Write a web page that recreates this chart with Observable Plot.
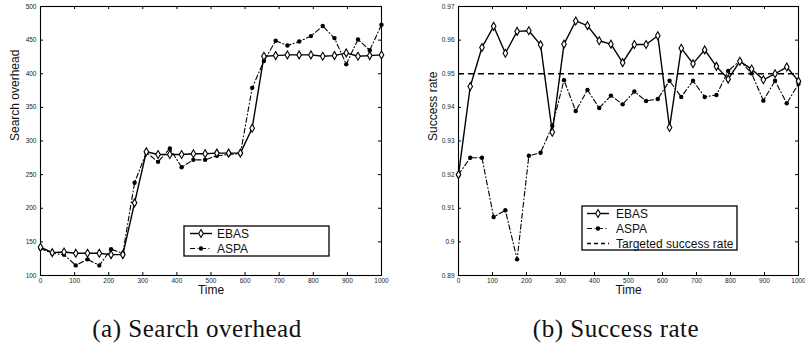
<!DOCTYPE html>
<html>
<head>
<meta charset="utf-8">
<script src="https://cdn.jsdelivr.net/npm/d3@7"></script>
<script src="https://cdn.jsdelivr.net/npm/@observablehq/plot@0.6"></script>
<style>
  body { margin: 0; background: #fff; }
  #wrap { position: relative; width: 805px; height: 347px; overflow: hidden; background: #fff;
          font-family: "Liberation Sans", Arial, sans-serif; }
  .panel { position: absolute; top: 0; }
  .legend { position: absolute; }
  #captions { position: absolute; left: 0; top: 0; }
</style>
</head>
<body>
<div id="wrap">
  <div class="panel" id="panelA" style="left:0;width:400px;"></div>
  <div class="panel" id="panelB" style="left:400px;width:405px;"></div>
  <div class="legend" id="legendA" style="left:183px;top:225px;"></div>
  <div class="legend" id="legendB" style="left:581px;top:205px;"></div>
  <svg id="captions" width="805" height="347"></svg>
</div>
<script>
// ---- data ----
const time = [0, 34.5, 69, 103.4, 137.9, 172.4, 206.9, 241.4, 275.9, 310.3, 344.8, 379.3, 413.8, 448.3, 482.8,
              517.2, 551.7, 586.2, 620.7, 655.2, 689.7, 724.1, 758.6, 793.1, 827.6, 862.1, 896.6, 931, 965.5, 1000];

const overheadEBAS = [142, 134, 135, 133, 133, 133, 131, 131, 208, 284, 280, 280, 280, 281, 281,
                      282, 282, 282, 319, 426, 427, 428, 428, 428, 426, 427, 431, 426, 427, 428];
const overheadASPA = [140, 133, 131, 115, 124, 115, 139, 133, 238, 283, 269, 289, 261, 272, 272,
                      278, 280, 281, 379, 419, 449, 442, 448, 456, 471, 453, 414, 451, 435, 473];

const successEBAS = [0.920, 0.9462, 0.9578, 0.9641, 0.9561, 0.9626, 0.9628, 0.9586, 0.9326, 0.9588,
                     0.9657, 0.9643, 0.9598, 0.9588, 0.9533, 0.9587, 0.9587, 0.9613, 0.934, 0.9576,
                     0.953, 0.9571, 0.9522, 0.9484, 0.9537, 0.9514, 0.9482, 0.950, 0.952, 0.9478];
const successASPA = [0.920, 0.925, 0.925, 0.9074, 0.9094, 0.8948, 0.9256, 0.9265, 0.9345, 0.9481,
                     0.9389, 0.9452, 0.9398, 0.9435, 0.9409, 0.9447, 0.9419, 0.9425, 0.9479, 0.9431,
                     0.9479, 0.9431, 0.9437, 0.9508, 0.9539, 0.9501, 0.942, 0.9479, 0.9412, 0.947];
const targetRate = 0.95;

const xTicks = [0, 100, 200, 300, 400, 500, 600, 700, 800, 900, 1000];
const yTicksA = [100, 150, 200, 250, 300, 350, 400, 450, 500];
const yTicksB = [0.89, 0.9, 0.91, 0.92, 0.93, 0.94, 0.95, 0.96, 0.97];

const seriesNames = ["EBAS", "ASPA", "Targeted success rate"];
const xLabel = "Time";
const yLabelA = "Search overhead";
const yLabelB = "Success rate";
const captionA = "(a) Search overhead";
const captionB = "(b) Success rate";

// ---- styles ----
const DASHDOT = "5,2.5,1,2.5";
const DASHED = "6,4";

function rows(a, b) { return time.map((t, i) => ({t, ebas: a[i], aspa: b[i]})); }

function panel({width, marginLeft, marginRight, yDomain, yTicks, yLabel, ebas, aspa, target}) {
  const data = rows(ebas, aspa);
  const [x0, x1] = [xTicks[0], xTicks[xTicks.length - 1]];
  const [y0, y1] = yDomain;
  const marks = [
    Plot.frame({stroke: "black", strokeWidth: 1.1}),
    // inward ticks on all four sides
    Plot.ruleX(xTicks, {x: d => d, y1: y0, y2: y0, insetBottom: 3, stroke: "black"}),
    Plot.ruleX(xTicks, {x: d => d, y1: y1, y2: y1, insetTop: 3, stroke: "black"}),
    Plot.ruleY(yTicks, {y: d => d, x1: x0, x2: x0, insetLeft: 3, stroke: "black"}),
    Plot.ruleY(yTicks, {y: d => d, x1: x1, x2: x1, insetRight: 3, stroke: "black"})
  ];
  if (target != null) {
    marks.push(Plot.ruleY([target], {stroke: "black", strokeWidth: 1.3, strokeDasharray: DASHED}));
  }
  marks.push(
    Plot.line(data, {x: "t", y: "aspa", stroke: "black", strokeWidth: 1.1, strokeDasharray: DASHDOT}),
    Plot.dot(data, {x: "t", y: "aspa", r: 2.2, fill: "black", stroke: "none"}),
    Plot.line(data, {x: "t", y: "ebas", stroke: "black", strokeWidth: 1.4}),
    Plot.dot(data, {x: "t", y: "ebas", symbol: "diamond", r: 2.4, fill: "white", stroke: "black", strokeWidth: 1.1}),
    Plot.text([yLabel], {frameAnchor: "left", dx: -25, rotate: -90, fontSize: 12, fill: "#111"}),
    Plot.text([xLabel], {frameAnchor: "bottom", dy: 18, fontSize: 12, fill: "#111"})
  );
  return Plot.plot({
    width, height: 300,
    marginLeft, marginRight, marginTop: 6, marginBottom: 25,
    style: {fontFamily: "'Liberation Sans', Arial, sans-serif", fontSize: "6.5px", color: "#222", background: "white"},
    x: {domain: [x0, x1], ticks: xTicks, tickSize: 0, tickPadding: 3, label: null, tickFormat: d => String(d)},
    y: {domain: yDomain, ticks: yTicks, tickSize: 0, tickPadding: 4, label: null, tickFormat: d => String(d)},
    marks
  });
}

document.getElementById("panelA").append(panel({
  width: 400, marginLeft: 40, marginRight: 19, yDomain: [100, 500], yTicks: yTicksA,
  yLabel: yLabelA, ebas: overheadEBAS, aspa: overheadASPA, target: null
}));
document.getElementById("panelB").append(panel({
  width: 405, marginLeft: 58, marginRight: 7, yDomain: [0.89, 0.97], yTicks: yTicksB,
  yLabel: yLabelB, ebas: successEBAS, aspa: successASPA, target: targetRate
}));

// ---- legends ----
function legend(el, entries, w, h, x0, x1, xm, xt) {
  const svg = d3.select(el).append("svg").attr("width", w + 2).attr("height", h + 2);
  svg.append("rect").attr("x", 1).attr("y", 1).attr("width", w - 1).attr("height", h - 1)
     .attr("fill", "white").attr("stroke", "black").attr("stroke-width", 1.3);
  entries.forEach((name, i) => {
    const y = 8.5 + i * 15;
    const g = svg.append("g");
    if (name === "EBAS") {
      g.append("line").attr("x1", x0).attr("x2", x1).attr("y1", y).attr("y2", y).attr("stroke", "black").attr("stroke-width", 1.4);
      g.append("path").attr("d", d3.symbol(d3.symbolDiamond, Math.PI * 2.4 * 2.4)()).attr("transform", `translate(${xm},${y})`)
        .attr("fill", "white").attr("stroke", "black").attr("stroke-width", 1.1);
    } else if (name === "ASPA") {
      g.append("line").attr("x1", x0).attr("x2", x1).attr("y1", y).attr("y2", y).attr("stroke", "black").attr("stroke-width", 1.1).attr("stroke-dasharray", DASHDOT);
      g.append("circle").attr("cx", xm).attr("cy", y).attr("r", 2.2).attr("fill", "black");
    } else {
      g.append("line").attr("x1", x0).attr("x2", x1).attr("y1", y).attr("y2", y).attr("stroke", "black").attr("stroke-width", 1.3).attr("stroke-dasharray", "4,3");
    }
    g.append("text").attr("x", xt).attr("y", y).attr("dy", "0.35em").attr("font-size", 12)
      .attr("font-family", "'Liberation Sans', Arial, sans-serif").attr("fill", "#111").text(name);
  });
}
legend(document.getElementById("legendA"), seriesNames.slice(0, 2), 146, 31, 7, 29, 18, 34);
legend(document.getElementById("legendB"), seriesNames, 156, 45, 6, 28, 17, 35);

// ---- captions ----
const cap = d3.select("#captions");
[[captionA, 197], [captionB, 616]].forEach(([t, cx]) => {
  cap.append("text").attr("x", cx).attr("y", 337).attr("text-anchor", "middle")
     .attr("font-family", "'Liberation Serif', 'Times New Roman', serif").attr("font-size", 25)
     .attr("letter-spacing", "0.5px").attr("fill", "#111").text(t);
});
</script>
</body>
</html>
